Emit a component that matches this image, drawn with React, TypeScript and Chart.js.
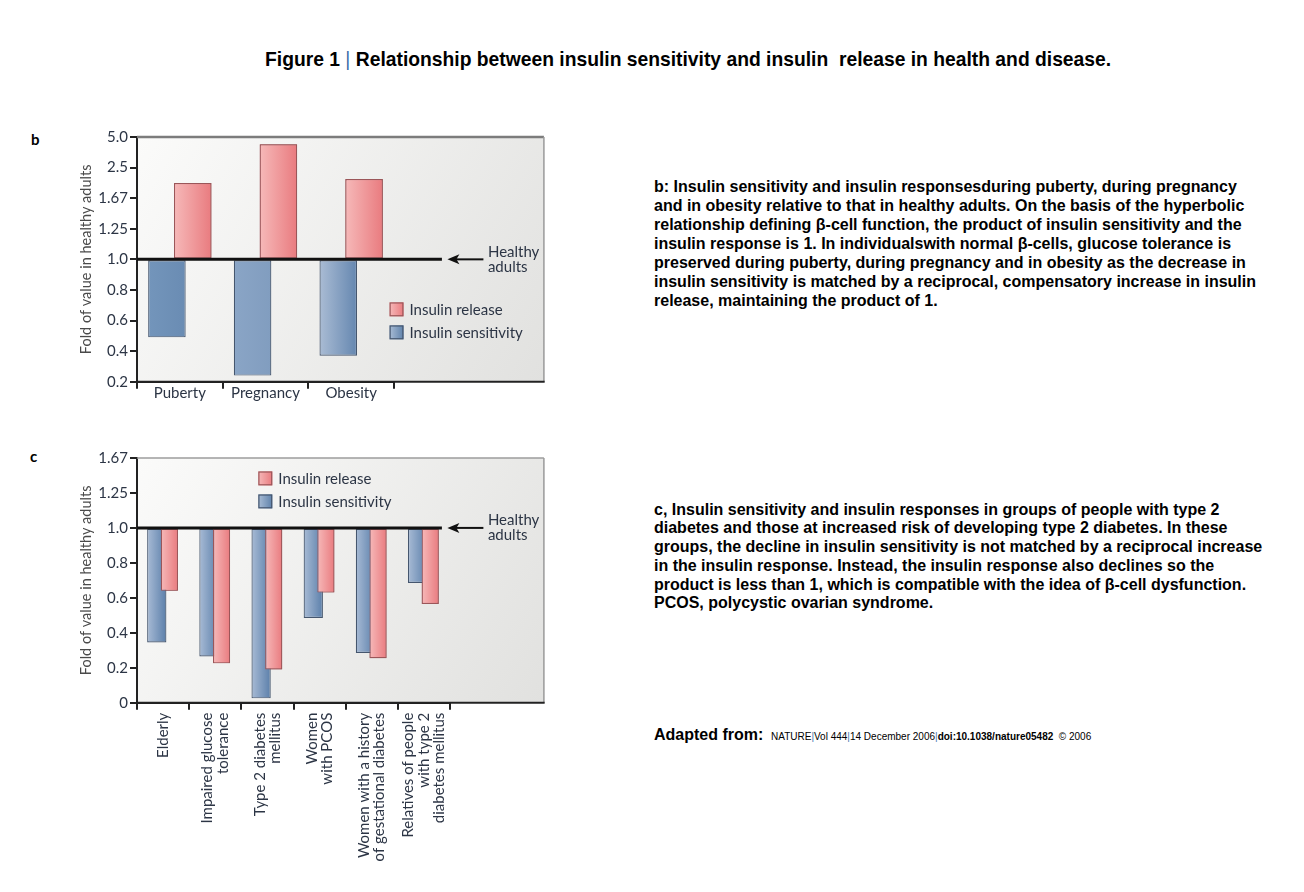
import React, { useEffect, useRef } from "react";
import { Chart, registerables } from "chart.js";

Chart.register(...registerables);

// ---------------- data: panel b ----------------
const bCategories: (string | string[])[] = ["Puberty", "Pregnancy", "Obesity"];
const bTickValues = [0.2, 0.4, 0.6, 0.8, 1.0, 1.25, 1.67, 2.5, 5.0];
const bTickLabels = ["0.2", "0.4", "0.6", "0.8", "1.0", "1.25", "1.67", "2.5", "5.0"];
const bInsulinRelease = [2.08, 4.4, 2.19];
const bInsulinSensitivity = [0.49, 0.24, 0.37];

// ---------------- data: panel c ----------------
const cCategories: (string | string[])[] = [
  ["Elderly"],
  ["Impaired glucose", "tolerance"],
  ["Type 2 diabetes", "mellitus"],
  ["Women", "with PCOS"],
  ["Women with a history", "of gestational diabetes"],
  ["Relatives of people", "with type 2", "diabetes mellitus"],
];
const cTickValues = [0, 0.2, 0.4, 0.6, 0.8, 1.0, 1.25, 1.67];
const cTickLabels = ["0", "0.2", "0.4", "0.6", "0.8", "1.0", "1.25", "1.67"];
const cInsulinRelease = [0.64, 0.225, 0.19, 0.63, 0.255, 0.565];
const cInsulinSensitivity = [0.345, 0.265, 0.025, 0.485, 0.285, 0.685];

const HEALTHY = 1.0;

// ---------------- text ----------------
const TITLE_A = "Figure 1 ";
const TITLE_B = " Relationship between insulin sensitivity and insulin  release in health and disease.";
const TEXT_B = [
  "b: Insulin sensitivity and insulin responsesduring puberty, during pregnancy",
  "and in obesity relative to that in healthy adults. On the basis of the hyperbolic",
  "relationship defining \u03b2-cell function, the product of insulin sensitivity and the",
  "insulin response is 1. In individualswith normal \u03b2-cells, glucose tolerance is",
  "preserved during puberty, during pregnancy and in obesity as the decrease in",
  "insulin sensitivity is matched by a reciprocal, compensatory increase in insulin",
  "release, maintaining the product of 1.",
];
const TEXT_C = [
  "c, Insulin sensitivity and insulin responses in groups of people with type 2",
  "diabetes and those at increased risk of developing type 2 diabetes. In these",
  "groups, the decline in insulin sensitivity is not matched by a reciprocal increase",
  "in the insulin response. Instead, the insulin response also declines so the",
  "product is less than 1, which is compatible with the idea of \u03b2-cell dysfunction.",
  "PCOS, polycystic ovarian syndrome.",
];

// ---------------- styles ----------------
const FONT = "Lato, 'Liberation Sans', sans-serif";
const TEXT_COLOR = "#2c3545";
const RELEASE_STOPS: [string, string] = ["#f6b9b9", "#e97b7f"];
const RELEASE_BORDER = "#9b5659";
const SENS_BORDER = "#45566e";
const SENS_LEGEND: [string, string] = ["#a9bcd5", "#5f82ab"];

// piecewise mapping of a fold value onto the evenly spaced tick positions
function toAxis(v: number, ticks: number[]): number {
  for (let i = 0; i < ticks.length - 1; i++) {
    if (v <= ticks[i + 1] || i === ticks.length - 2) {
      return i + (v - ticks[i]) / (ticks[i + 1] - ticks[i]);
    }
  }
  return 0;
}

type Spec = {
  categories: (string | string[])[];
  tickValues: number[];
  tickLabels: string[];
  release: number[];
  sensitivity: number[];
  sensStops: [string, string][];
  catPct: number;
  sensPct: number;
  relPct: number;
  padTop: number;
  padRight: number;
  xHeight: number;
  panelExtra: number;
  topBorder: [string, number];
  customXLabels: boolean;
  legendPos: (a: any, panelRight: number, baseY: number) => [number, number];
};

function makeChart(canvas: HTMLCanvasElement, s: Spec) {
  const n = s.categories.length;
  const base = toAxis(HEALTHY, s.tickValues);

  const geom = (chart: any, ds: number, i: number): [number, number] => {
    const xs = chart.scales.x;
    const cw = xs.width / n;
    const chunk = (cw * s.catPct) / 2;
    const center = xs.getPixelForValue(i) + (ds === 0 ? -chunk / 2 : chunk / 2);
    const w = chunk * (ds === 0 ? s.sensPct : s.relPct);
    return [center - w / 2, center + w / 2];
  };

  const fill = (stopsFor: (i: number) => [string, string]) => (ctx: any) => {
    const chart = ctx.chart;
    const i = ctx.dataIndex;
    if (i === undefined || !chart.chartArea || !chart.scales.x) return stopsFor(0)[1];
    const stops = stopsFor(i);
    const [l, r] = geom(chart, ctx.datasetIndex, i);
    const g = chart.ctx.createLinearGradient(l, 0, r, 0);
    g.addColorStop(0, stops[0]);
    g.addColorStop(1, stops[1]);
    return g;
  };

  const panelRightOf = (chart: any) => {
    const a = chart.chartArea;
    const cw = chart.scales.x.width / n;
    return a.right + s.panelExtra * cw;
  };

  const plugin = {
    id: "panel",
    beforeDraw(chart: any) {
      const { ctx, chartArea: a } = chart;
      const right = panelRightOf(chart);
      const g = ctx.createLinearGradient(a.left, a.top, right, a.bottom);
      g.addColorStop(0, "#fbfbfa");
      g.addColorStop(1, "#e1e1df");
      ctx.save();
      ctx.fillStyle = g;
      ctx.fillRect(a.left, a.top, right - a.left, a.bottom - a.top);
      ctx.restore();
    },
    afterDatasetsDraw(chart: any) {
      // release bars lie over the sensitivity bars
      const meta = chart.getDatasetMeta(1);
      meta.data.forEach((el: any) => el.draw(chart.ctx));
    },
    afterDraw(chart: any) {
      const { ctx, chartArea: a } = chart;
      const ys = chart.scales.y;
      const xs = chart.scales.x;
      const right = panelRightOf(chart);
      const baseY = ys.getPixelForValue(base);
      ctx.save();
      // panel borders
      ctx.lineCap = "butt";
      ctx.strokeStyle = s.topBorder[0];
      ctx.lineWidth = s.topBorder[1];
      ctx.beginPath();
      ctx.moveTo(a.left, a.top);
      ctx.lineTo(right, a.top);
      ctx.stroke();
      ctx.strokeStyle = "#9a9a9a";
      ctx.lineWidth = 1.5;
      ctx.beginPath();
      ctx.moveTo(right, a.top);
      ctx.lineTo(right, a.bottom);
      ctx.stroke();
      ctx.strokeStyle = "#222";
      ctx.lineWidth = 2;
      ctx.beginPath();
      ctx.moveTo(a.left, a.bottom);
      ctx.lineTo(right + 0.75, a.bottom);
      ctx.stroke();

      // healthy adults line
      const lineEnd = right - 102;
      ctx.strokeStyle = "#111";
      ctx.lineWidth = 3;
      ctx.beginPath();
      ctx.moveTo(a.left, baseY);
      ctx.lineTo(lineEnd, baseY);
      ctx.stroke();

      // arrow
      const tip = lineEnd + 5.5;
      const tail = tip + 36;
      ctx.lineWidth = 2;
      ctx.beginPath();
      ctx.moveTo(tip + 8, baseY);
      ctx.lineTo(tail, baseY);
      ctx.stroke();
      ctx.fillStyle = "#111";
      ctx.beginPath();
      ctx.moveTo(tip, baseY);
      ctx.lineTo(tip + 12, baseY - 5);
      ctx.lineTo(tip + 9, baseY);
      ctx.lineTo(tip + 12, baseY + 5);
      ctx.closePath();
      ctx.fill();

      ctx.fillStyle = TEXT_COLOR;
      ctx.font = `15px ${FONT}`;
      ctx.textAlign = "left";
      ctx.textBaseline = "middle";
      ctx.fillText("Healthy", tail + 4.5, baseY - 7.5);
      ctx.fillText("adults", tail + 4.5, baseY + 7.5);

      // legend
      const [lx, ly] = s.legendPos(a, right, baseY);
      const rows: [string, [string, string], string][] = [
        ["Insulin release", RELEASE_STOPS, RELEASE_BORDER],
        ["Insulin sensitivity", SENS_LEGEND, SENS_BORDER],
      ];
      rows.forEach(([label, stops, border], k) => {
        const y0 = ly + k * 23;
        const g = ctx.createLinearGradient(lx, 0, lx + 14, 0);
        g.addColorStop(0, stops[0]);
        g.addColorStop(1, stops[1]);
        ctx.fillStyle = g;
        ctx.fillRect(lx, y0, 14, 14);
        ctx.strokeStyle = border;
        ctx.lineWidth = 1.2;
        ctx.strokeRect(lx + 0.6, y0 + 0.6, 12.8, 12.8);
        ctx.fillStyle = TEXT_COLOR;
        ctx.fillText(label, lx + 20, y0 + 7.5);
      });

      // rotated category labels
      if (s.customXLabels) {
        ctx.font = `15px ${FONT}`;
        ctx.fillStyle = TEXT_COLOR;
        ctx.textAlign = "right";
        ctx.textBaseline = "middle";
        s.categories.forEach((cat, i) => {
          const lines = Array.isArray(cat) ? cat : [cat];
          const cx = xs.getPixelForValue(i);
          lines.forEach((line, j) => {
            const x = cx + (j - (lines.length - 1) / 2) * 15.5;
            ctx.save();
            ctx.translate(x, a.bottom + 10);
            ctx.rotate(-Math.PI / 2);
            ctx.fillText(line, 0, 0);
            ctx.restore();
          });
        });
      }
      ctx.restore();
    },
  };

  const tickFont = { family: FONT, size: 15 };

  return new Chart(canvas, {
    type: "bar",
    data: {
      labels: s.categories.map((c) => (Array.isArray(c) ? c.join(" ") : c)),
      datasets: [
        {
          label: "Insulin sensitivity",
          data: s.sensitivity.map((v) => toAxis(v, s.tickValues)),
          base,
          backgroundColor: fill((i) => s.sensStops[i] || s.sensStops[0]),
          borderColor: SENS_BORDER,
          borderWidth: 1.2,
          borderSkipped: false,
          categoryPercentage: s.catPct,
          barPercentage: s.sensPct,
        } as any,
        {
          label: "Insulin release",
          data: s.release.map((v) => toAxis(v, s.tickValues)),
          base,
          backgroundColor: fill(() => RELEASE_STOPS),
          borderColor: RELEASE_BORDER,
          borderWidth: 1.2,
          borderSkipped: false,
          categoryPercentage: s.catPct,
          barPercentage: s.relPct,
        } as any,
      ],
    },
    options: {
      animation: false,
      responsive: false,
      events: [],
      layout: { padding: { top: s.padTop, right: s.padRight, left: 0, bottom: 0 } },
      plugins: { legend: { display: false }, tooltip: { enabled: false }, title: { display: false } },
      scales: {
        x: {
          offset: true,
          grid: { offset: true, drawOnChartArea: false, drawTicks: true, tickLength: 7, color: "#222", lineWidth: 2 },
          border: { display: true, color: "#222", width: 2 },
          ticks: s.customXLabels
            ? { display: false }
            : { font: tickFont, color: TEXT_COLOR, padding: -5, maxRotation: 0, minRotation: 0, autoSkip: false },
          afterFit: (scale: any) => {
            scale.height = s.xHeight;
          },
        },
        y: {
          min: 0,
          max: s.tickValues.length - 1,
          afterBuildTicks: (scale: any) => {
            scale.ticks = s.tickValues.map((_, i) => ({ value: i }));
          },
          ticks: {
            font: tickFont,
            color: TEXT_COLOR,
            padding: 2,
            autoSkip: false,
            callback: (v: any) => s.tickLabels[Math.round(Number(v))] ?? "",
          },
          grid: { drawOnChartArea: false, drawTicks: true, tickLength: 7, color: "#222", lineWidth: 2 },
          border: { display: true, color: "#222", width: 2 },
          title: {
            display: true,
            text: "Fold of value in healthy adults",
            font: { family: FONT, size: 14.5 },
            color: "#4a4a4a",
            padding: { top: 18, bottom: 0 },
          },
          afterFit: (scale: any) => {
            scale.width = 77;
          },
        },
      },
    } as any,
    plugins: [plugin as any],
  });
}

const specB: Spec = {
  categories: bCategories,
  tickValues: bTickValues,
  tickLabels: bTickLabels,
  release: bInsulinRelease,
  sensitivity: bInsulinSensitivity,
  sensStops: [
    ["#7395bb", "#6a8cb3"],
    ["#8aa5c6", "#819dbf"],
    ["#aabcd4", "#6587b0"],
  ],
  catPct: 0.603,
  sensPct: 1.453,
  relPct: 1.453,
  padTop: 10,
  padRight: 166,
  xHeight: 29.3,
  panelExtra: 1.75,
  topBorder: ["#7c7c7c", 2.5],
  customXLabels: false,
  legendPos: (_a, right, baseY) => [right - 154.4, baseY + 43],
};

const specC: Spec = {
  categories: cCategories,
  tickValues: cTickValues,
  tickLabels: cTickLabels,
  release: cInsulinRelease,
  sensitivity: cInsulinSensitivity,
  sensStops: cCategories.map(() => ["#a8bbd5", "#5b7faa"] as [string, string]),
  catPct: 0.483,
  sensPct: 1.53,
  relPct: 1.36,
  padTop: 10.3,
  padRight: 110,
  xHeight: 169.3,
  panelExtra: 1.8,
  topBorder: ["#9c9c9c", 1.5],
  customXLabels: true,
  legendPos: (a) => [a.left + 121.3, a.top + 13.4],
};

export default function App() {
  const bRef = useRef<HTMLCanvasElement>(null);
  const cRef = useRef<HTMLCanvasElement>(null);

  useEffect(() => {
    const charts: Chart[] = [];
    if (bRef.current) charts.push(makeChart(bRef.current, specB));
    if (cRef.current) charts.push(makeChart(cRef.current, specC));
    return () => charts.forEach((c) => c.destroy());
  }, []);

  const pageFont = "'Liberation Sans', Arial, sans-serif";
  const para = (lines: string[], top: number, pitch: number) => (
    <div style={{ position: "absolute", left: 654, top, fontSize: 16, fontWeight: "bold", lineHeight: `${pitch}px`, whiteSpace: "pre" }}>
      {lines.map((l, i) => (
        <div key={i}>{l}</div>
      ))}
    </div>
  );

  return (
    <div style={{ position: "fixed", left: 0, top: 0, width: 1304, height: 892, background: "#fff", overflow: "hidden", fontFamily: pageFont, color: "#000" }}>
      <div style={{ position: "absolute", left: 265, top: 48, fontSize: 19.3, fontWeight: "bold", lineHeight: "24px", whiteSpace: "pre" }}>
        {TITLE_A}
        <span style={{ fontWeight: "normal", color: "#3f6fa8" }}>|</span>
        {TITLE_B}
      </div>
      <div style={{ position: "absolute", left: 31, top: 130, fontSize: 15, fontWeight: "bold", lineHeight: "18px", fontFamily: FONT }}>b</div>
      <div style={{ position: "absolute", left: 30, top: 447, fontSize: 15, fontWeight: "bold", lineHeight: "18px", fontFamily: FONT }}>c</div>
      <canvas ref={bRef} width={500} height={285} style={{ position: "absolute", left: 60, top: 126, display: "block" }} />
      <canvas ref={cRef} width={500} height={425} style={{ position: "absolute", left: 60, top: 447, display: "block" }} />
      {para(TEXT_B, 176.5, 19)}
      {para(TEXT_C, 500.5, 18.8)}
      <div style={{ position: "absolute", left: 654, top: 725, fontSize: 16, fontWeight: "bold", lineHeight: "20px", whiteSpace: "pre" }}>Adapted from:</div>
      <div style={{ position: "absolute", left: 771, top: 731, fontSize: 10, lineHeight: "12px", whiteSpace: "pre" }}>
        NATURE<span style={{ color: "#4a78b0" }}>|</span>Vol 444<span style={{ color: "#4a78b0" }}>|</span>14 December 2006
        <span style={{ color: "#4a78b0" }}>|</span>
        <b>doi:10.1038/nature05482</b>
        {"  \u00a9 2006"}
      </div>
    </div>
  );
}
